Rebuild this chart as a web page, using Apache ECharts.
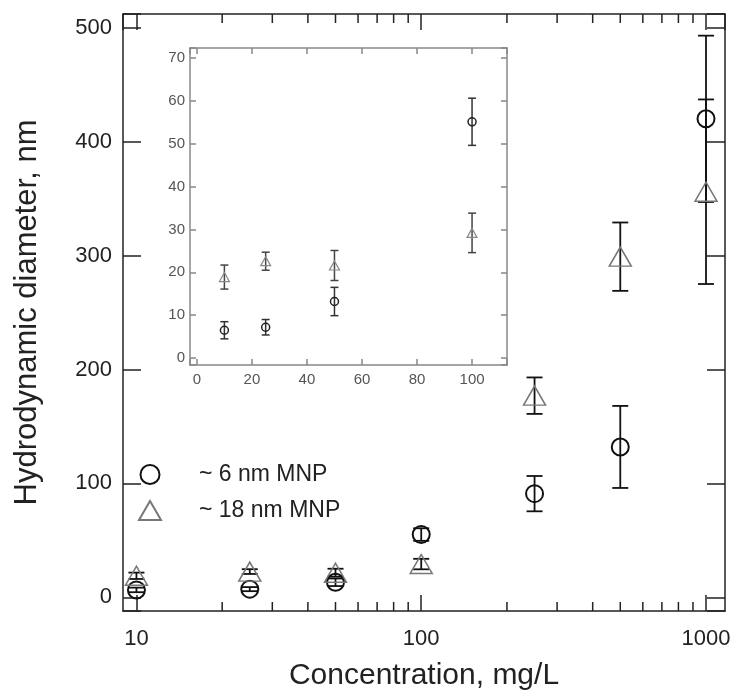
<!DOCTYPE html>
<html>
<head>
<meta charset="utf-8">
<title>Hydrodynamic diameter vs concentration</title>
<script src="https://cdn.jsdelivr.net/npm/echarts@6/dist/echarts.min.js"></script>
<style>
  html, body { margin: 0; padding: 0; background: #fff; }
  #container { width: 735px; height: 696px; }
</style>
</head>
<body>
<div id="container"></div>
<script>
// concentration, mg/L
var concMain = [10, 25, 50, 100, 250, 500, 1000];
var concInset = [10, 25, 50, 100];
// ~6 nm MNP, diameter nm and error
var smallD = [6.5, 7.2, 13.2, 55.1, 91, 132, 420];
var smallErr = [2.0, 1.8, 3.3, 5.5, 15.5, 36, 73];
// ~18 nm MNP
var largeD = [18.9, 22.6, 21.6, 29.2, 177, 299, 356];
var largeErr = [2.8, 2.1, 3.5, 4.6, 16, 30, 81];
// tick labels
var xTickLabels = [10, 100, 1000];
var minorTicks = [20, 30, 40, 50, 60, 70, 80, 90, 200, 300, 400, 500, 600, 700, 800, 900];

var FONT = "'Liberation Sans', Arial, Helvetica, sans-serif";
var NAME6 = '~ 6 nm MNP';
var NAME18 = '~ 18 nm MNP';

function pts(xs, ys, errs) {
    var out = [];
    for (var i = 0; i < xs.length; i++) {
        out.push([xs[i], ys[i], errs[i]]);
    }
    return out;
}

// error bar drawer
function errBars(capW, color, lw) {
    return function (params, api) {
        var x = api.value(0), y = api.value(1), e = api.value(2);
        var top = api.coord([x, y + e]);
        var bot = api.coord([x, y - e]);
        var h = capW / 2;
        var st = { stroke: color, lineWidth: lw };
        return {
            type: 'group',
            children: [
                { type: 'line', shape: { x1: top[0], y1: top[1], x2: bot[0], y2: bot[1] }, style: st },
                { type: 'line', shape: { x1: top[0] - h, y1: top[1], x2: top[0] + h, y2: top[1] }, style: st },
                { type: 'line', shape: { x1: bot[0] - h, y1: bot[1], x2: bot[0] + h, y2: bot[1] }, style: st }
            ]
        };
    };
}

// minor ticks of log axis, bottom and top
function minorTickItem(params, api) {
    var x = api.coord([api.value(0), 0])[0];
    var cs = params.coordSys;
    var len = 9;
    var st = { stroke: '#222', lineWidth: 1.5 };
    return {
        type: 'group',
        children: [
            { type: 'line', shape: { x1: x, y1: cs.y + cs.height, x2: x, y2: cs.y + cs.height - len }, style: st },
            { type: 'line', shape: { x1: x, y1: cs.y, x2: x, y2: cs.y + len }, style: st }
        ]
    };
}

function logLabel(v) {
    var r = Math.round(v);
    if (Math.abs(v - r) < 1e-6 * r && xTickLabels.indexOf(r) >= 0) return String(r);
    return '';
}

var mainLine = { show: true, onZero: false, lineStyle: { color: '#222', width: 1.5 } };
var insetLine = { show: true, onZero: false, lineStyle: { color: '#888', width: 1.5 } };

var dom = document.getElementById('container');
var myChart = echarts.init(dom);

var option = {
    animation: false,
    textStyle: { fontFamily: FONT },
    grid: [
        { left: 123, top: 14, width: 602, height: 599 },
        { left: 190, top: 48, width: 317, height: 317, show: true, backgroundColor: '#fff', borderWidth: 0 }
    ],
    legend: {
        orient: 'vertical',
        left: 133,
        top: 458,
        itemWidth: 22,
        itemHeight: 19,
        itemGap: 13,
        textStyle: { fontSize: 23, color: '#222', fontFamily: FONT, padding: [0, 0, 0, 33] },
        data: [{ name: NAME6, icon: 'circle' }, { name: NAME18, icon: 'triangle' }]
    },
    xAxis: [
        {
            type: 'log', logBase: 10, gridIndex: 0, position: 'bottom', min: 8.97, max: 1166,
            name: 'Concentration, mg/L', nameLocation: 'middle', nameGap: 50,
            nameTextStyle: { fontSize: 30, color: '#222', fontFamily: FONT },
            axisLine: mainLine,
            axisTick: { show: true, inside: true, length: 16, lineStyle: { color: '#222', width: 1.5 } },
            axisLabel: { formatter: logLabel, fontSize: 22, color: '#222', margin: 17, showMinLabel: false, showMaxLabel: false },
            splitLine: { show: false }
        },
        {
            type: 'log', logBase: 10, gridIndex: 0, position: 'top', min: 8.97, max: 1166,
            axisLine: mainLine,
            axisTick: { show: true, inside: true, length: 16, lineStyle: { color: '#222', width: 1.5 } },
            axisLabel: { show: false },
            splitLine: { show: false }
        },
        {
            type: 'value', gridIndex: 1, position: 'bottom', min: -2.5, max: 112.7, splitNumber: 6,
            axisLine: insetLine,
            axisTick: { show: true, inside: true, length: 6, lineStyle: { color: '#888', width: 1.5 } },
            axisLabel: { formatter: function (v) { return v % 20 === 0 ? String(v) : ''; }, fontSize: 15, color: '#555', margin: 7 },
            splitLine: { show: false }
        },
        {
            type: 'value', gridIndex: 1, position: 'top', min: -2.5, max: 112.7, splitNumber: 6,
            axisLine: insetLine,
            axisTick: { show: true, inside: true, length: 6, lineStyle: { color: '#888', width: 1.5 } },
            axisLabel: { show: false },
            splitLine: { show: false }
        }
    ],
    yAxis: [
        {
            type: 'value', gridIndex: 0, position: 'left', min: -12, max: 512, splitNumber: 5,
            name: 'Hydrodynamic diameter, nm', nameLocation: 'middle', nameGap: 80,
            nameTextStyle: { fontSize: 31, color: '#222', fontFamily: FONT },
            axisLine: mainLine,
            axisTick: { show: true, inside: true, length: 18, lineStyle: { color: '#222', width: 1.5 } },
            axisLabel: { formatter: function (v) { return v % 100 === 0 ? String(v) : ''; }, fontSize: 22, color: '#222', margin: 11 },
            splitLine: { show: false }
        },
        {
            type: 'value', gridIndex: 0, position: 'right', min: -12, max: 512, splitNumber: 5,
            axisLine: mainLine,
            axisTick: { show: true, inside: true, length: 18, lineStyle: { color: '#222', width: 1.5 } },
            axisLabel: { show: false },
            splitLine: { show: false }
        },
        {
            type: 'value', gridIndex: 1, position: 'left', min: -1.6, max: 72.3, splitNumber: 7,
            axisLine: insetLine,
            axisTick: { show: true, inside: true, length: 6, lineStyle: { color: '#888', width: 1.5 } },
            axisLabel: { formatter: function (v) { return v % 10 === 0 ? String(v) : ''; }, fontSize: 15, color: '#555', margin: 5 },
            splitLine: { show: false }
        },
        {
            type: 'value', gridIndex: 1, position: 'right', min: -1.6, max: 72.3, splitNumber: 7,
            axisLine: insetLine,
            axisTick: { show: true, inside: true, length: 6, lineStyle: { color: '#888', width: 1.5 } },
            axisLabel: { show: false },
            splitLine: { show: false }
        }
    ],
    series: [
        {
            type: 'custom', xAxisIndex: 0, yAxisIndex: 0, silent: true,
            renderItem: minorTickItem,
            data: minorTicks.map(function (v) { return [v, 0]; })
        },
        {
            type: 'custom', xAxisIndex: 0, yAxisIndex: 0, silent: true,
            renderItem: errBars(16, '#111', 1.8),
            data: pts(concMain, smallD, smallErr)
        },
        {
            type: 'custom', xAxisIndex: 0, yAxisIndex: 0, silent: true,
            renderItem: errBars(16, '#111', 1.8),
            data: pts(concMain, largeD, largeErr)
        },
        {
            name: NAME6, type: 'scatter', xAxisIndex: 0, yAxisIndex: 0,
            symbol: 'circle', symbolSize: 17,
            itemStyle: { color: 'rgba(0,0,0,0)', borderColor: '#111', borderWidth: 2, opacity: 1 },
            data: pts(concMain, smallD, smallErr)
        },
        {
            name: NAME18, type: 'scatter', xAxisIndex: 0, yAxisIndex: 0,
            symbol: 'triangle', symbolSize: [22, 19],
            itemStyle: { color: 'rgba(0,0,0,0)', borderColor: '#777', borderWidth: 1.5, opacity: 1 },
            data: pts(concMain, largeD, largeErr)
        },
        {
            type: 'custom', xAxisIndex: 2, yAxisIndex: 2, silent: true, z: 5,
            renderItem: errBars(8, '#333', 1.5),
            data: pts(concInset, smallD, smallErr)
        },
        {
            type: 'custom', xAxisIndex: 2, yAxisIndex: 2, silent: true, z: 5,
            renderItem: errBars(8, '#444', 1.5),
            data: pts(concInset, largeD, largeErr)
        },
        {
            name: NAME6, type: 'scatter', xAxisIndex: 2, yAxisIndex: 2, z: 5,
            symbol: 'circle', symbolSize: 8,
            itemStyle: { color: 'rgba(0,0,0,0)', borderColor: '#222', borderWidth: 1.5, opacity: 1 },
            data: pts(concInset, smallD, smallErr)
        },
        {
            name: NAME18, type: 'scatter', xAxisIndex: 2, yAxisIndex: 2, z: 5,
            symbol: 'triangle', symbolSize: [10, 9],
            itemStyle: { color: 'rgba(0,0,0,0)', borderColor: '#888', borderWidth: 1.2, opacity: 1 },
            data: pts(concInset, largeD, largeErr)
        }
    ]
};

if (option && typeof option === 'object') {
    myChart.setOption(option, true);
}
</script>
</body>
</html>
